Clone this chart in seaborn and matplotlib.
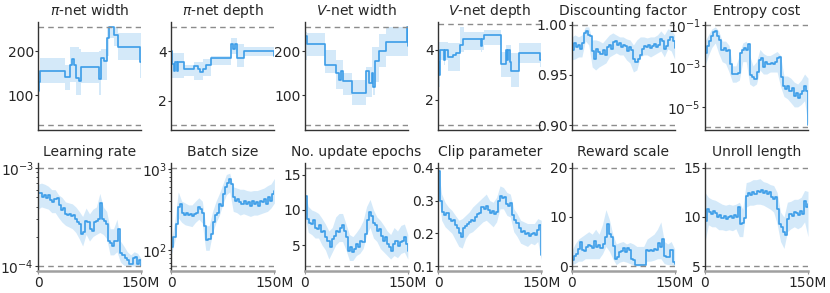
import numpy as np
import matplotlib
matplotlib.use('Agg')
import matplotlib.pyplot as plt
import seaborn as sns
from matplotlib.ticker import FixedLocator, NullLocator, LogFormatterSciNotation, LogLocator, NullFormatter

# --- DATA (x in millions of steps) ---
# step-wise hyperparameters (top row, first four panels)
pw_x  = [0, 1, 3, 40, 46, 50, 52, 56, 59, 62, 89, 91, 96, 100, 104, 110, 116, 148, 150]
pw_m  = [110, 130, 155, 142, 170, 183, 170, 140, 132, 165, 138, 184, 178, 230, 256, 238, 210, 175, 175]
pw_lo = [100, 110, 128, 112, 130, 130, 130, 100, 100, 128, 100, 135, 135, 190, 230, 212, 180, 140, 140]
pw_hi = [120, 150, 184, 170, 210, 210, 210, 210, 205, 198, 200, 205, 205, 256, 256, 256, 242, 242, 242]

pd_x  = [0, 1, 4, 5, 8, 9, 19, 33, 38, 42, 46, 50, 58, 87, 90, 92, 95, 105, 149, 150]
pd_m  = [4.0, 3.5, 3.2, 3.55, 3.2, 3.55, 3.27, 3.4, 3.3, 3.15, 3.3, 3.45, 3.72, 4.3, 4.1, 4.3, 3.72, 4.0, 3.8, 3.8]
pd_lo = [2.7, 2.9, 2.9, 2.9, 2.9, 2.9, 3.0, 2.85, 2.85, 2.85, 3.0, 3.0, 3.45, 3.9, 3.9, 3.9, 3.35, 3.8, 3.6, 3.6]
pd_hi = [4.2, 3.95, 3.95, 3.95, 3.95, 3.95, 3.45, 3.55, 3.55, 3.55, 3.7, 3.7, 3.8, 4.55, 4.55, 4.55, 4.3, 4.2, 4.2, 4.2]

vw_x  = [0, 1, 3, 30, 45, 50, 52, 55, 68, 89, 93, 98, 100, 102, 108, 118, 149, 150]
vw_m  = [150, 235, 218, 168, 150, 135, 155, 133, 105, 155, 127, 150, 120, 178, 200, 222, 255, 212]
vw_lo = [120, 180, 190, 150, 115, 115, 115, 100, 78, 95, 95, 130, 100, 130, 165, 190, 190, 170]
vw_hi = [190, 245, 243, 204, 180, 180, 180, 150, 135, 165, 165, 210, 210, 210, 240, 256, 256, 256]

vd_x  = [0, 1, 2, 9, 10, 14, 22, 26, 32, 36, 38, 62, 64, 67, 92, 98, 100, 102, 104, 106, 118, 148, 150]
vd_m  = [3.5, 3.0, 4.0, 3.6, 4.0, 3.7, 3.8, 3.87, 4.2, 4.43, 4.43, 4.15, 4.43, 4.57, 3.41, 4.0, 3.6, 4.0, 3.5, 3.14, 3.85, 3.6, 3.6]
vd_lo = [2.5, 2.5, 3.6, 3.4, 3.6, 3.15, 3.15, 3.15, 3.9, 3.9, 4.0, 3.9, 4.0, 4.2, 2.9, 2.9, 2.9, 2.9, 2.9, 2.5, 3.45, 3.3, 3.3]
vd_hi = [4.3, 4.3, 4.3, 4.3, 4.3, 4.25, 4.25, 4.25, 4.9, 4.9, 4.7, 4.7, 4.7, 4.79, 3.9, 4.2, 4.2, 4.2, 4.2, 3.85, 4.25, 4.25, 4.25]

# sampling grids for the continuous hyperparameters
t3 = [0, 3, 6, 9, 12, 15, 18, 21, 24, 27, 30, 33, 36, 39, 42, 45, 48, 51, 54, 57, 60, 63, 66, 69, 72, 75,
      78, 81, 84, 87, 90, 93, 96, 99, 102, 105, 108, 111, 114, 117, 120, 123, 126, 129, 132, 135, 138,
      141, 144, 147, 150]
t5 = [0, 5, 10, 15, 20, 25, 30, 35, 40, 45, 50, 55, 60, 65, 70, 75, 80, 85, 90, 95, 100, 105, 110, 115,
      120, 125, 130, 135, 140, 145, 150]

gam_m = [0.975, 0.982, 0.978, 0.980, 0.976, 0.982, 0.992, 0.994, 0.990, 0.989, 0.974, 0.966, 0.976, 0.973,
         0.971, 0.975, 0.970, 0.978, 0.980, 0.976, 0.983, 0.984, 0.980, 0.982, 0.978, 0.980, 0.979, 0.974,
         0.978, 0.975, 0.966, 0.963, 0.966, 0.970, 0.976, 0.979, 0.978, 0.980, 0.977, 0.979, 0.981, 0.978,
         0.980, 0.986, 0.984, 0.976, 0.979, 0.985, 0.988, 0.984, 0.977]
gam_lo = [0.965, 0.966, 0.968, 0.968, 0.984, 0.980, 0.958, 0.955, 0.958, 0.960, 0.962, 0.968, 0.970, 0.972,
          0.970, 0.970, 0.965, 0.962, 0.953, 0.955, 0.968, 0.970, 0.970, 0.968, 0.970, 0.972, 0.974, 0.968,
          0.976, 0.974, 0.966]
gam_hi = [0.988, 0.990, 0.988, 0.990, 0.998, 0.998, 0.985, 0.985, 0.984, 0.982, 0.986, 0.990, 0.992, 0.990,
          0.988, 0.988, 0.986, 0.985, 0.980, 0.985, 0.988, 0.988, 0.987, 0.988, 0.988, 0.990, 0.994, 0.990,
          0.996, 0.995, 0.990]

ent_m = [4.2e-3, 9.1e-3, 1.6e-2, 2.9e-2, 4.3e-2, 5.1e-2, 2.9e-2, 1.9e-2, 6.2e-3, 7.4e-3, 5.1e-3, 6.2e-3,
         1.3e-3, 4.1e-4, 4.1e-4, 3.8e-4, 4.5e-4, 4.2e-3, 6.2e-3, 7.4e-3, 6.2e-3, 1.1e-2, 3.4e-4, 3.0e-4,
         2.3e-4, 5.0e-4, 1.9e-3, 2.3e-3, 8.9e-4, 1.6e-3, 1.3e-3, 1.2e-3, 1.4e-3, 1.3e-3, 1.6e-3, 2.3e-3,
         2.8e-3, 2.8e-4, 1.1e-4, 7.2e-5, 1.1e-4, 5.9e-5, 8.7e-5, 3.3e-5, 4.9e-5, 2.8e-5, 4.1e-5, 5.9e-5,
         1.1e-4, 5.9e-5, 1.3e-6]
ent_lo = [1e-3, 3.2e-3, 7.9e-3, 1.3e-2, 4.0e-3, 1.6e-3, 1.3e-3, 5.0e-4, 1.6e-4, 1.6e-4, 2.0e-4, 1.6e-3,
          1.6e-3, 1.3e-4, 1e-4, 1.3e-4, 6.3e-4, 4.0e-4, 4.0e-4, 5.0e-4, 5.0e-4, 5.0e-4, 1e-4, 3.2e-5,
          2.5e-5, 1.6e-5, 1e-5, 1e-5, 1.3e-5, 2.0e-5, 1.3e-6]
ent_hi = [1.6e-2, 3.2e-2, 6.3e-2, 7.9e-2, 5.0e-2, 1.6e-2, 1.6e-2, 1e-2, 1e-3, 1e-3, 3.2e-3, 1.3e-2,
          1.6e-2, 3.2e-3, 1e-3, 1.6e-3, 6.3e-3, 4.0e-3, 3.2e-3, 3.2e-3, 4.0e-3, 5.0e-3, 3.2e-3, 3.2e-4,
          3.2e-4, 2.5e-4, 1.6e-4, 1.3e-4, 2.0e-4, 4.0e-4, 2.5e-4]

lr_m = [5.5e-4, 5.5e-4, 5.1e-4, 5.3e-4, 4.9e-4, 5.3e-4, 4.7e-4, 4.5e-4, 4.8e-4, 4.9e-4, 4.2e-4, 3.7e-4,
        3.9e-4, 3.4e-4, 3.3e-4, 3.4e-4, 3.2e-4, 3.3e-4, 3.0e-4, 2.8e-4, 2.7e-4, 2.1e-4, 2.2e-4, 2.9e-4,
        2.8e-4, 2.4e-4, 2.3e-4, 2.8e-4, 2.9e-4, 3.0e-4, 4.4e-4, 3.0e-4, 2.9e-4, 2.7e-4, 1.8e-4, 1.7e-4,
        1.6e-4, 1.8e-4, 1.8e-4, 2.4e-4, 1.35e-4, 1.3e-4, 1.2e-4, 1.15e-4, 1.06e-4, 1.05e-4, 1.2e-4,
        1.25e-4, 1.05e-4, 1.15e-4, 1.0e-4]
lr_lo = [3.8e-4, 4.0e-4, 3.9e-4, 3.8e-4, 3.5e-4, 3.5e-4, 3.1e-4, 2.8e-4, 2.6e-4, 2.5e-4, 2.4e-4, 2.2e-4,
         1.9e-4, 1.6e-4, 2.1e-4, 1.8e-4, 2.0e-4, 2.1e-4, 2.2e-4, 2.1e-4, 1.9e-4, 1.3e-4, 1.3e-4, 1.4e-4,
         1.1e-4, 1.02e-4, 1.0e-4, 1.0e-4, 1.0e-4, 1.0e-4, 1.0e-4]
lr_hi = [6.8e-4, 7.0e-4, 6.8e-4, 6.5e-4, 6.0e-4, 6.0e-4, 5.3e-4, 5.0e-4, 4.5e-4, 4.4e-4, 4.3e-4, 4.0e-4,
         3.6e-4, 3.2e-4, 3.9e-4, 3.4e-4, 3.8e-4, 4.0e-4, 5.5e-4, 4.0e-4, 3.6e-4, 2.4e-4, 2.4e-4, 3.0e-4,
         1.8e-4, 1.6e-4, 1.4e-4, 1.3e-4, 1.4e-4, 1.35e-4, 1.2e-4]

bs_m = [110, 145, 210, 335, 370, 290, 270, 290, 270, 275, 260, 280, 290, 335, 320, 290, 200, 132, 138,
        160, 220, 270, 290, 370, 350, 490, 590, 675, 740, 645, 445, 405, 425, 390, 370, 405, 370, 390,
        350, 405, 370, 390, 350, 405, 390, 425, 370, 445, 405, 490, 535]
bs_lo = [90, 130, 250, 220, 205, 200, 195, 220, 240, 215, 100, 100, 165, 220, 270, 370, 480, 520, 300,
         290, 270, 280, 270, 260, 270, 270, 280, 290, 300, 330, 380]
bs_hi = [135, 230, 520, 400, 380, 360, 360, 400, 440, 400, 200, 200, 300, 400, 500, 650, 850, 880, 600,
         580, 560, 560, 540, 530, 540, 540, 560, 580, 620, 650, 760]

ep_m = [12.0, 8.7, 8.2, 8.0, 8.5, 7.5, 7.3, 7.8, 6.8, 7.0, 6.1, 5.6, 4.7, 5.9, 6.3, 7.0, 6.8, 7.4, 7.8,
        7.0, 6.1, 4.2, 4.7, 4.0, 4.4, 5.1, 4.7, 5.6, 5.4, 6.6, 8.5, 9.7, 9.2, 8.2, 7.8, 7.0, 7.3, 6.3,
        5.6, 6.1, 5.1, 4.7, 4.2, 5.1, 5.6, 4.9, 5.4, 5.6, 6.1, 5.1, 4.2]
ep_lo = [9.5, 6.8, 6.5, 6.0, 6.0, 5.0, 4.3, 3.0, 4.0, 5.0, 5.5, 5.5, 4.3, 2.8, 2.8, 3.5, 3.8, 4.5, 6.5,
         7.5, 6.0, 5.5, 4.5, 4.0, 3.5, 3.0, 3.5, 3.2, 3.8, 4.0, 3.0]
ep_hi = [12.5, 10.5, 10.0, 9.8, 9.5, 8.8, 8.0, 7.0, 7.5, 9.0, 9.5, 9.5, 8.0, 6.5, 6.2, 6.8, 7.5, 8.5,
         10.5, 11.5, 10.0, 9.0, 8.5, 7.8, 7.0, 6.5, 7.5, 7.0, 7.8, 8.0, 6.5]

clip_m = [0.39, 0.30, 0.265, 0.255, 0.262, 0.245, 0.238, 0.242, 0.225, 0.215, 0.200, 0.190, 0.215, 0.222,
          0.228, 0.236, 0.242, 0.238, 0.250, 0.258, 0.262, 0.280, 0.275, 0.285, 0.270, 0.262, 0.268, 0.260,
          0.265, 0.300, 0.315, 0.308, 0.312, 0.290, 0.285, 0.292, 0.255, 0.240, 0.232, 0.215, 0.205, 0.208,
          0.198, 0.200, 0.192, 0.198, 0.200, 0.195, 0.210, 0.225, 0.135]
clip_lo = [0.33, 0.24, 0.22, 0.21, 0.20, 0.18, 0.16, 0.155, 0.185, 0.20, 0.205, 0.215, 0.225, 0.235, 0.24,
           0.23, 0.22, 0.235, 0.275, 0.275, 0.255, 0.25, 0.205, 0.19, 0.17, 0.165, 0.16, 0.17, 0.165, 0.175,
           0.12]
clip_hi = [0.40, 0.32, 0.295, 0.28, 0.27, 0.255, 0.24, 0.245, 0.255, 0.265, 0.28, 0.29, 0.30, 0.31, 0.32,
           0.30, 0.295, 0.31, 0.345, 0.34, 0.325, 0.32, 0.275, 0.26, 0.24, 0.235, 0.23, 0.23, 0.23, 0.245,
           0.24]

rew_m = [1.2, 2.0, 2.5, 3.5, 4.9, 3.2, 3.0, 3.8, 4.2, 4.0, 3.6, 5.2, 3.9, 4.2, 3.6, 4.5, 5.9, 8.6, 6.5,
         5.9, 4.0, 1.5, 1.8, 2.9, 3.0, 3.6, 2.8, 3.6, 3.2, 1.5, 1.2, 0.3, 0.2, 0.2, 0.3, 0.2, 3.2, 3.0,
         3.3, 3.0, 3.4, 3.2, 4.6, 3.8, 5.6, 2.0, 1.8, 1.9, 3.3, 0.8, 0.5]
rew_lo = [0.3, 0.5, 1.0, 1.0, 1.5, 1.5, 1.5, 1.5, 1.5, 2.5, 4.0, 3.0, 1.5, 0.3, 0.8, 1.0, 0.8, 0.5, 0.2,
          0.0, 0.0, 0.0, 1.0, 1.0, 1.2, 1.5, 1.5, 0.5, 0.3, 0.3, 0.0]
rew_hi = [3.0, 4.5, 5.5, 6.0, 6.5, 7.0, 6.5, 7.5, 6.5, 8.5, 11.5, 9.5, 6.5, 4.5, 4.8, 5.0, 4.5, 4.8, 4.5,
          4.0, 4.0, 4.0, 5.5, 6.0, 6.5, 7.5, 9.0, 5.0, 4.5, 5.0, 3.5]

unr_m = [9.6, 10.8, 10.5, 10.3, 10.6, 10.4, 10.0, 10.2, 9.9, 10.1, 9.8, 10.0, 10.1, 9.9, 10.2, 10.0, 11.0,
         9.3, 9.4, 9.9, 12.1, 12.4, 12.2, 12.5, 12.3, 12.6, 12.5, 12.7, 12.4, 12.6, 12.3, 12.5, 12.0, 11.8,
         12.0, 10.8, 9.3, 9.0, 8.5, 8.2, 9.8, 10.3, 10.1, 10.5, 10.4, 10.2, 10.6, 10.3, 11.6, 11.0, 11.3]
unr_lo = [7.5, 9.2, 9.0, 9.0, 8.7, 8.7, 8.6, 8.7, 8.6, 8.8, 8.0, 8.0, 11.0, 11.2, 11.2, 11.3, 11.3, 11.2,
          11.0, 10.8, 10.5, 9.3, 7.5, 6.8, 8.5, 8.8, 9.0, 8.8, 9.0, 9.5, 8.0]
unr_hi = [12.5, 12.0, 11.8, 11.7, 11.5, 11.3, 11.2, 11.3, 11.2, 11.3, 11.5, 10.8, 13.5, 13.6, 13.8, 13.8,
          13.9, 13.6, 13.5, 13.3, 13.2, 12.5, 10.5, 10.0, 11.5, 11.6, 11.8, 11.8, 12.0, 12.7, 12.6]

# --- STYLE ---
LINE_C = '#3c9de8'
DASH_C = '#8c8c8c'
FS = 10

sns.set_style('ticks')
plt.rcParams['font.family'] = ['DejaVu Sans']
plt.rcParams['mathtext.fontset'] = 'dejavusans'

panels = [
    dict(title=r'$\pi$-net width', x=pw_x, m=pw_m, bx=pw_x, lo=pw_lo, hi=pw_hi, b=(32, 256), steps=True, yt=[100, 200]),
    dict(title=r'$\pi$-net depth', x=pd_x, m=pd_m, bx=pd_x, lo=pd_lo, hi=pd_hi, b=(1, 5), steps=True, yt=[2, 4]),
    dict(title=r'$V$-net width', x=vw_x, m=vw_m, bx=vw_x, lo=vw_lo, hi=vw_hi, b=(32, 256), steps=True, yt=[100, 200]),
    dict(title=r'$V$-net depth', x=vd_x, m=vd_m, bx=vd_x, lo=vd_lo, hi=vd_hi, b=(1, 5), steps=True, yt=[2, 4]),
    dict(title='Discounting factor', x=t3, m=gam_m, bx=t5, lo=gam_lo, hi=gam_hi, b=(0.90, 1.00), yt=[0.90, 0.95, 1.00], fmt='{:.2f}'),
    dict(title='Entropy cost', x=t3, m=ent_m, bx=t5, lo=ent_lo, hi=ent_hi, b=(1e-6, 1e-1), log=True, yt=[1e-5, 1e-3, 1e-1], minor=False),
    dict(title='Learning rate', x=t3, m=lr_m, bx=t5, lo=lr_lo, hi=lr_hi, b=(1e-4, 1e-3), log=True, yt=[1e-4, 1e-3]),
    dict(title='Batch size', x=t3, m=bs_m, bx=t5, lo=bs_lo, hi=bs_hi, b=(64, 1024), log=True, yt=[1e2, 1e3]),
    dict(title='No. update epochs', x=t3, m=ep_m, bx=t5, lo=ep_lo, hi=ep_hi, b=(2, 16), yt=[5, 10, 15]),
    dict(title='Clip parameter', x=t3, m=clip_m, bx=t5, lo=clip_lo, hi=clip_hi, b=(0.1, 0.4), yt=[0.1, 0.2, 0.3, 0.4], fmt='{:.1f}'),
    dict(title='Reward scale', x=t3, m=rew_m, bx=t5, lo=rew_lo, hi=rew_hi, b=(0, 20), yt=[0, 10, 20]),
    dict(title='Unroll length', x=t3, m=unr_m, bx=t5, lo=unr_lo, hi=unr_hi, b=(5, 15), yt=[5, 10, 15]),
]

fig, axes = plt.subplots(2, 6, figsize=(8.3, 2.93), dpi=100)
fig.subplots_adjust(left=0.0458, right=0.9735, top=0.925, bottom=0.0751, wspace=0.295, hspace=0.305)

for i, (ax, p) in enumerate(zip(axes.flat, panels)):
    steps = p.get('steps', False)
    if p.get('log'):
        ax.set_yscale('log')
    # shaded spread, then the mean line (all drawn as steps, like the source)
    ax.fill_between(p['bx'], p['lo'], p['hi'], step='post' if steps else None,
                    color=LINE_C, alpha=0.22, lw=0)
    sns.lineplot(x=p['x'], y=p['m'], ax=ax, color=LINE_C, lw=1.2, drawstyle='steps-post')
    for b in p['b']:
        ax.axhline(b, color=DASH_C, ls='--', lw=1.0, dashes=(4, 3))
    ax.set_xlim(0, 150)
    ax.set_title(p['title'], fontsize=FS, pad=5)

    ax.yaxis.set_major_locator(FixedLocator(p['yt']))
    if p.get('log'):
        ax.yaxis.set_major_formatter(LogFormatterSciNotation())
        if p.get('minor', True):
            ax.yaxis.set_minor_locator(LogLocator(base=10, subs=np.arange(2, 10)))
            ax.yaxis.set_minor_formatter(NullFormatter())
        else:
            ax.yaxis.set_minor_locator(NullLocator())
    elif 'fmt' in p:
        ax.set_yticklabels([p['fmt'].format(v) for v in p['yt']])

    sns.despine(ax=ax)
    ax.spines['left'].set_color('#333333')
    ax.spines['left'].set_linewidth(1.0)
    ax.tick_params(axis='y', labelsize=FS, length=2, width=0.8, pad=1, color='#333333')
    ax.tick_params(axis='y', which='minor', length=1.5, width=0.6)
    if i < 6:
        ax.set_xticks([])
        ax.spines['bottom'].set_color('#333333')
        ax.spines['bottom'].set_linewidth(1.0)
    else:
        ax.set_xticks([0, 150])
        ax.set_xticklabels(['0', '150M'])
        ax.tick_params(axis='x', labelsize=FS, length=2, width=0.8, pad=1.5, color='#999999')
        ax.spines['bottom'].set_color('#a0a0a0')
        ax.spines['bottom'].set_linewidth(1.8)
    ax.set_xlabel('')
    ax.set_ylabel('')

fig.savefig('out.png', dpi=100)
